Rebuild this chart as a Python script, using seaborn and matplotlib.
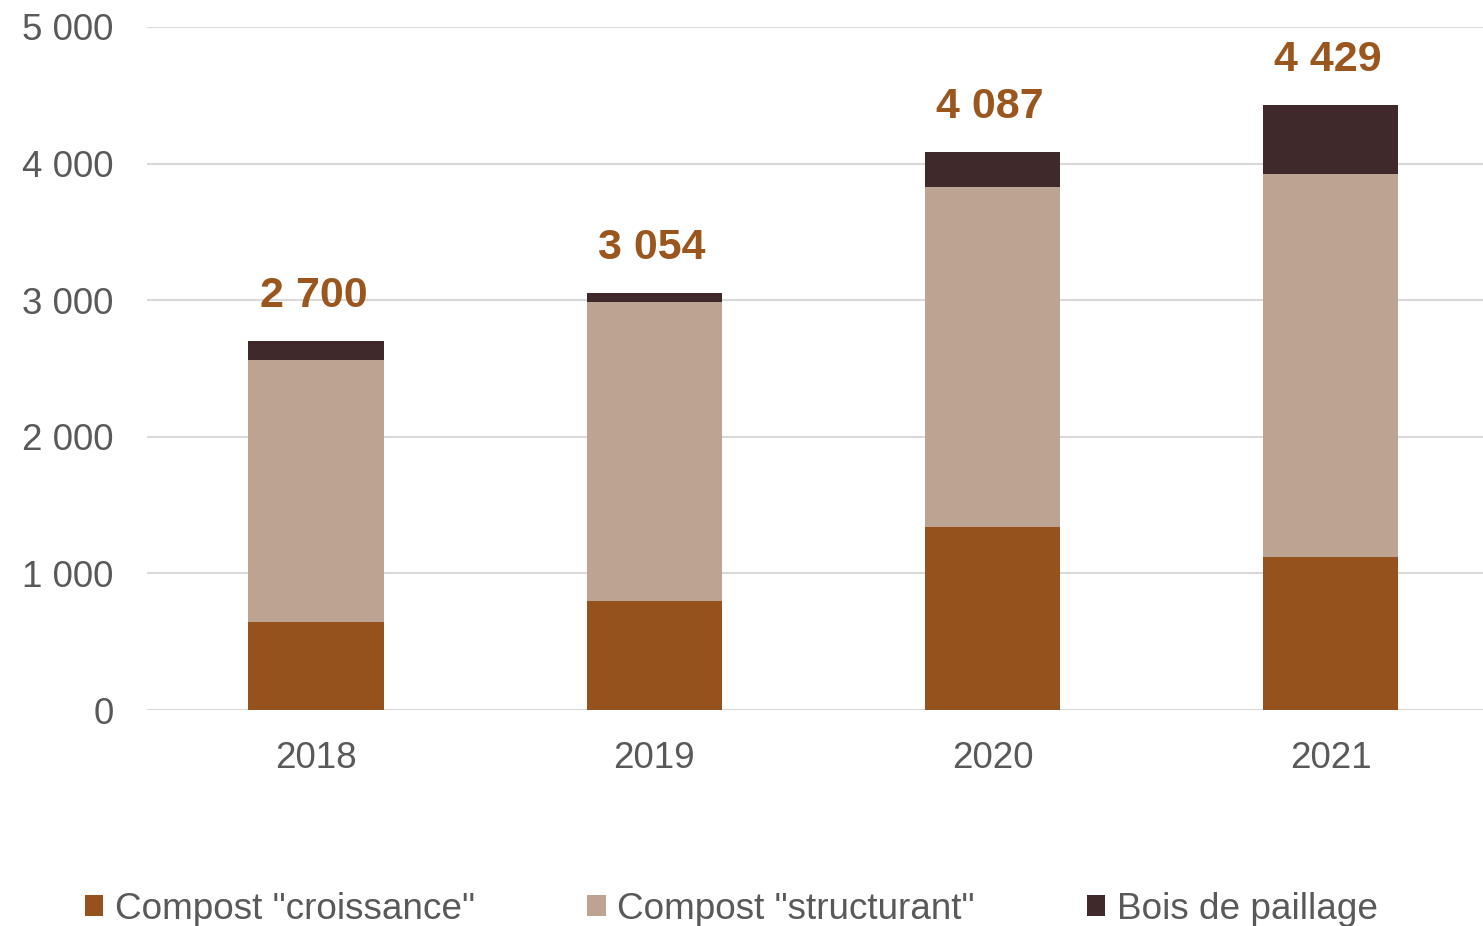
import matplotlib
matplotlib.use("Agg")
import matplotlib.pyplot as plt
import seaborn as sns
import pandas as pd
import numpy as np

# values
years = ["2018", "2019", "2020", "2021"]
croissance = [645, 798, 1340, 1120]
structurant = [1917, 2189, 2489, 2804]
bois = [138, 67, 258, 505]
totals = [2700, 3054, 4087, 4429]

series_names = ['Compost "croissance"', 'Compost "structurant"', 'Bois de paillage']
colors = ["#96521C", "#BDA391", "#40292A"]
label_color = "#9B561E"
text_grey = "#595959"

sns.set_style("white")
plt.rcParams['font.family'] = ['Liberation Sans', 'DejaVu Sans']

df = pd.DataFrame({
    "year": years,
    "c": croissance,
    "s": structurant,
    "b": bois,
})
df["lvl1"] = df["c"]
df["lvl2"] = df["c"] + df["s"]
df["lvl3"] = df["lvl2"] + df["b"]

fig = plt.figure(figsize=(14.83, 9.26), dpi=100)
ax = fig.add_axes([147 / 1483, 216 / 926, 1 - 147 / 1483, (710 - 27) / 926])

# stacked look: draw cumulative heights from back to front
sns.barplot(data=df, x="year", y="lvl3", color=colors[2], width=0.4,
            saturation=1, ax=ax, zorder=3, label=series_names[2], linewidth=0)
sns.barplot(data=df, x="year", y="lvl2", color=colors[1], width=0.4,
            saturation=1, ax=ax, zorder=3, label=series_names[1], linewidth=0)
sns.barplot(data=df, x="year", y="lvl1", color=colors[0], width=0.4,
            saturation=1, ax=ax, zorder=3, label=series_names[0], linewidth=0)

for i, t in enumerate(totals):
    ax.annotate(f"{t:,}".replace(",", " "), (i, df["lvl3"][i]),
                xytext=(-2, 18), textcoords="offset points",
                ha="center", va="bottom", fontsize=31, fontweight="bold",
                color=label_color)

ax.set_ylim(0, 5000)
ax.set_xlim(-0.5, 3.45)
ax.set_yticks(range(0, 5001, 1000))
ax.set_yticklabels([f"{v:,}".replace(",", " ") for v in range(0, 5001, 1000)])
ax.yaxis.grid(True, color="#D9D9D9", linewidth=1.5, zorder=0)
ax.set_axisbelow(True)
ax.set_xlabel("")
ax.set_ylabel("")
sns.despine(ax=ax, left=True, bottom=True, right=True, top=True)
ax.tick_params(axis="y", length=0, pad=24, labelsize=26.5, labelcolor=text_grey)
ax.tick_params(axis="x", length=0, pad=22, labelsize=26.5, labelcolor=text_grey)

handles, labels = ax.get_legend_handles_labels()
order = [labels.index(n) for n in series_names]
ax.legend([handles[k] for k in order], series_names, ncol=3,
          loc="center left", bbox_to_anchor=(-62 / 1336, -0.292),
          frameon=False, fontsize=26.6, labelcolor=text_grey,
          handlelength=0.5, handleheight=0.5, handletextpad=0.3,
          columnspacing=3.05, borderaxespad=0, borderpad=0)

fig.savefig("out.png", dpi=100)
